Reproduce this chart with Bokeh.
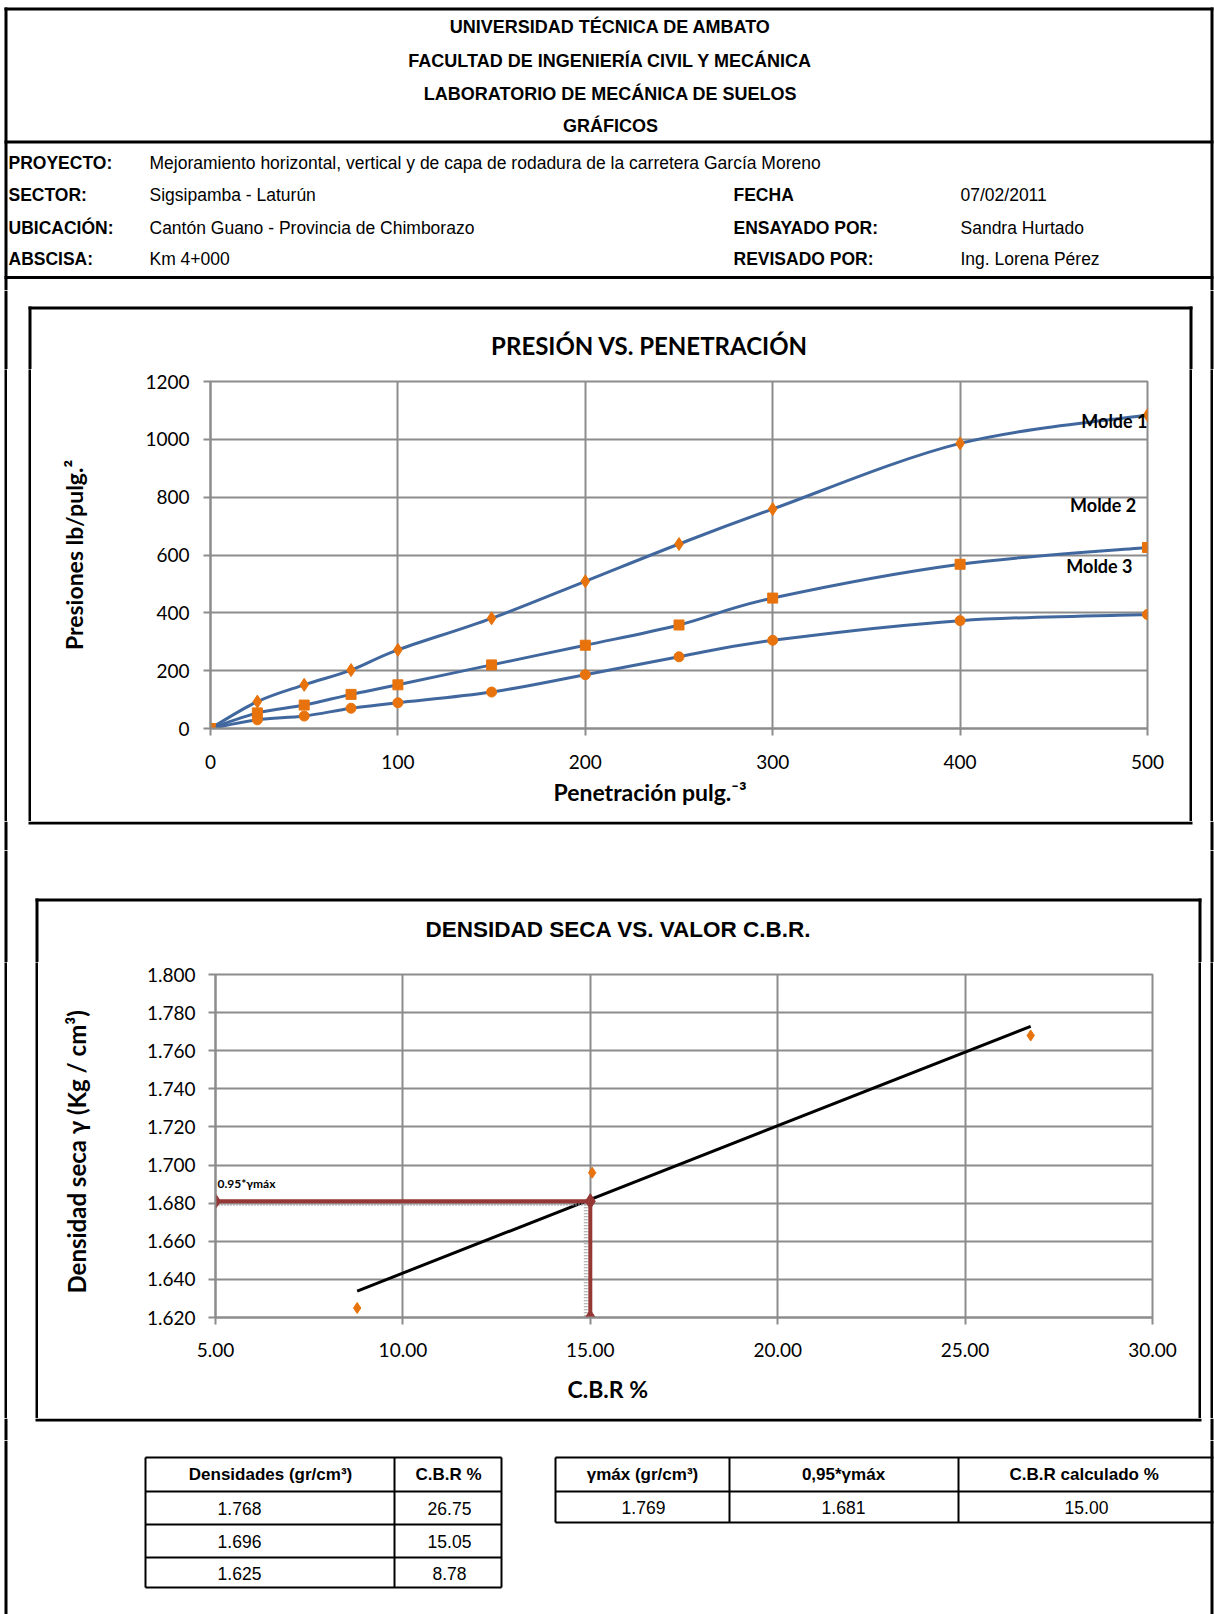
import numpy as np
from bokeh.plotting import figure
from bokeh.layouts import column, row
from bokeh.models import (Range1d, FixedTicker, NumeralTickFormatter, Label,
                          Title)
from bokeh.embed import file_html
from bokeh.resources import INLINE
from bokeh.core.properties import value

# ---------------------------------------------------------------- data
penetracion = [0, 25, 50, 75, 100, 150, 200, 250, 300, 400, 500]
molde_1 = [0, 93, 151, 202, 272, 381, 509, 638, 759, 986, 1084]
molde_2 = [0, 54, 81, 118, 151, 220, 288, 358, 451, 568, 626]
molde_3 = [0, 30, 43, 70, 89, 126, 186, 248, 305, 373, 394]
molde_names = ["Molde 1", "Molde 2", "Molde 3"]

densidades = [1.768, 1.696, 1.625]
cbr_pct = [26.75, 15.05, 8.78]
gamma_max = 1.769
gamma_95 = 1.681
cbr_calculado = 15.00

pen_ticks = [0, 100, 200, 300, 400, 500]
pres_ticks = [0, 200, 400, 600, 800, 1000, 1200]
cbr_ticks = [5, 10, 15, 20, 25, 30]
dens_ticks = [1.62, 1.64, 1.66, 1.68, 1.70, 1.72, 1.74, 1.76, 1.78, 1.80]

titulos = ["UNIVERSIDAD TÉCNICA DE AMBATO",
           "FACULTAD DE INGENIERÍA CIVIL Y MECÁNICA",
           "LABORATORIO DE MECÁNICA DE SUELOS",
           "GRÁFICOS"]
campos_izq = ["PROYECTO:", "SECTOR:", "UBICACIÓN:", "ABSCISA:"]
valores_izq = ["Mejoramiento horizontal, vertical y de capa de rodadura de la carretera García Moreno",
               "Sigsipamba - Laturún",
               "Cantón Guano - Provincia de Chimborazo",
               "Km 4+000"]
campos_der = ["FECHA", "ENSAYADO POR:", "REVISADO POR:"]
valores_der = ["07/02/2011", "Sandra Hurtado", "Ing. Lorena Pérez"]

# ---------------------------------------------------------------- style
W = 1214
SIDES = [(4, 7), (1210, 1213)]          # page side rules
ARIAL = value("Liberation Sans")
CHART_FONT = "Lato"
BLUE = "#41689E"
ORANGE = "#E8730C"
DARKRED = "#953735"
GRID = "#8C8C8C"


def bare(width, height, color="white"):
    """A plain filled block: no axes, no glyphs."""
    p = figure(width=width, height=height, x_axis_location=None,
               y_axis_location=None, output_backend="svg",
               toolbar_location=None, min_border=0)
    p.frame_align = False
    p.grid.visible = False
    p.outline_line_color = None
    p.background_fill_color = color
    p.border_fill_color = color
    return p


def pixel_figure(width, height):
    """No axes; data coordinates are pixels with y growing downwards."""
    p = figure(width=width, height=height, x_range=Range1d(0, width),
               y_range=Range1d(height, 0), x_axis_location=None,
               y_axis_location=None, output_backend="svg",
               toolbar_location=None, min_border=0)
    p.frame_align = False
    p.grid.visible = False
    p.outline_line_color = None
    p.background_fill_color = "white"
    p.border_fill_color = "white"
    return p


def rule_figure(width, height, rects):
    """Pixel figure carrying solid black rectangles (l, r, t, b)."""
    p = pixel_figure(width, height)
    l, r, t, b = zip(*rects)
    p.quad(left=list(l), right=list(r), top=list(t), bottom=list(b),
           fill_color="black", line_color=None)
    return p


def style_chart(p):
    p.frame_align = False
    p.background_fill_color = "white"
    p.border_fill_color = "white"
    p.outline_line_color = GRID
    p.outline_line_width = 2
    for ax in (p.xaxis[0], p.yaxis[0]):
        ax.axis_line_color = GRID
        ax.axis_line_width = 2
        ax.major_tick_line_color = GRID
        ax.major_tick_line_width = 2
        ax.major_tick_out = 7
        ax.major_tick_in = 0
        ax.minor_tick_line_color = None
        ax.major_label_text_font = CHART_FONT
        ax.major_label_text_font_size = "19px"
        ax.major_label_text_color = "black"
        ax.axis_label_text_font = CHART_FONT
        ax.axis_label_text_font_style = "bold"
        ax.axis_label_text_font_size = "23px"
        ax.axis_label_text_color = "black"
    for g in (p.xgrid[0], p.ygrid[0]):
        g.grid_line_color = GRID
        g.grid_line_width = 2


def x_caption(p, text, left_offset, standoff):
    p.add_layout(Title(text=text, align="left", offset=left_offset,
                       standoff=standoff, text_font=CHART_FONT,
                       text_font_style="bold", text_font_size="23px",
                       text_color="black"), "below")


def chart_section(frame, box, sec, title, title_xy, title_font, title_size,
                  x_range, y_range):
    """A chart inside a 3px black box, with the page side rules.

    frame: plot area (left, right, top, bottom) in page pixels
    box:   outer edges of the black box (left, right, top, bottom)
    sec:   vertical extent of the page band (top, bottom)
    Returns the chart and the three stacked bands of the section.
    """
    fl, fr, ft, fb = frame
    bl, br, bt, bb = box
    st, sb = sec
    pad = 12                                  # room for the top tick label
    c_top = ft - pad
    c_bot = bb - 3
    row_h = c_bot - c_top

    # band above the chart canvas: side rules, top of the box and the title
    top_h = c_top - st
    top = rule_figure(W, top_h, [(a, b, 0, top_h) for a, b in SIDES] +
                      [(bl, br, bt - st, bt - st + 3),
                       (bl, bl + 3, bt - st, top_h),
                       (br - 3, br, bt - st, top_h)])
    top.text(x=[title_xy[0]], y=[title_xy[1] - st], text=[title],
             text_font=value(title_font), text_font_style="bold",
             text_font_size=title_size, text_align="center",
             text_baseline="middle", text_color="black")

    chart = figure(width=(br - 3) - (bl + 3), height=row_h,
                   x_range=x_range, y_range=y_range, output_backend="svg",
                   toolbar_location=None,
                   min_border_left=fl - (bl + 3),
                   min_border_right=(br - 3) - fr,
                   min_border_top=pad,
                   min_border_bottom=c_bot - fb)
    style_chart(chart)

    # one flat row of blocks: page rule, gap, box side, chart, box side, ...
    (l0, l1), (r0, r1) = SIDES
    blocks = [bare(l0, row_h), bare(l1 - l0, row_h, "black"),
              bare(bl - l1, row_h), bare(3, row_h, "black"), chart,
              bare(3, row_h, "black"), bare(r0 - br, row_h),
              bare(r1 - r0, row_h, "black"), bare(W - r1, row_h)]
    middle = row(blocks, spacing=0)

    bot_h = sb - c_bot
    bottom = rule_figure(W, bot_h, [(a, b, 0, bot_h) for a, b in SIDES] +
                         [(bl, br, 0, 3)])
    return chart, [top, middle, bottom]


def smooth_segments(xs, ys):
    """Cubic Bezier pieces through the points (Catmull-Rom tangents)."""
    x = np.asarray(xs, float)
    y = np.asarray(ys, float)
    n = len(x)
    xp = np.concatenate([[x[0]], x, [x[-1]]])
    yp = np.concatenate([[y[0]], y, [y[-1]]])
    i = np.arange(n - 1)
    cx0 = x[i] + (xp[i + 2] - xp[i]) / 6
    cy0 = y[i] + (yp[i + 2] - yp[i]) / 6
    cx1 = x[i + 1] - (xp[i + 3] - xp[i + 1]) / 6
    cy1 = y[i + 1] - (yp[i + 3] - yp[i + 1]) / 6
    return dict(x0=x[:-1], y0=y[:-1], x1=x[1:], y1=y[1:],
                cx0=cx0, cy0=cy0, cx1=cx1, cy1=cy1)


# ---------------------------------------------------------------- header
H_H = 290
head = pixel_figure(W, H_H)
head.segment(x0=[4, 4, 4], y0=[8.5, 141.5, 277], x1=[1213, 1213, 1213],
             y1=[8.5, 141.5, 277], line_color="black", line_width=3)
head.segment(x0=[5.5, 1211.5], y0=[7, 7], x1=[5.5, 1211.5], y1=[H_H, H_H],
             line_color="black", line_width=3)
head.text(x=[610] * 4, y=[26, 60, 93, 125], text=titulos, text_font=ARIAL,
          text_font_style="bold", text_font_size="18px", text_align="center",
          text_baseline="middle", text_color="black")
rows_y = [162, 194, 227, 258]
head.text(x=[8] * 4, y=rows_y, text=campos_izq, text_font=ARIAL,
          text_font_style="bold", text_font_size="17.5px", text_align="left",
          text_baseline="middle", text_color="black")
head.text(x=[149] * 4, y=rows_y, text=valores_izq, text_font=ARIAL,
          text_font_size="17.5px", text_align="left", text_baseline="middle",
          text_color="black")
head.text(x=[733] * 3, y=rows_y[1:], text=campos_der, text_font=ARIAL,
          text_font_style="bold", text_font_size="17.5px", text_align="left",
          text_baseline="middle", text_color="black")
head.text(x=[960] * 3, y=rows_y[1:], text=valores_der, text_font=ARIAL,
          text_font_size="17.5px", text_align="left", text_baseline="middle",
          text_color="black")

# ---------------------------------------------------------------- chart 1
p1, sec1 = chart_section(frame=(210, 1147, 381, 728), box=(28, 1192, 306, 824),
                         sec=(290, 850), title="PRESIÓN VS. PENETRACIÓN",
                         title_xy=(649, 345), title_font=CHART_FONT,
                         title_size="24px", x_range=Range1d(0, 500),
                         y_range=Range1d(0, 1200))
p1.xaxis.ticker = FixedTicker(ticks=pen_ticks)
p1.yaxis.ticker = FixedTicker(ticks=pres_ticks)
p1.xaxis.major_label_standoff = 19
p1.yaxis.major_label_standoff = 14
p1.yaxis.axis_label = "Presiones lb/pulg.²"
p1.yaxis.axis_label_standoff = 54
x_caption(p1, "Penetración pulg.⁻³", 343, 9)

for serie, marker, size in ((molde_1, "diamond", 13), (molde_2, "square", 10),
                            (molde_3, "circle", 10)):
    p1.bezier(line_color=BLUE, line_width=3, **smooth_segments(penetracion, serie))
    p1.scatter(penetracion, serie, marker=marker, size=size, fill_color=ORANGE,
               line_color=ORANGE)

for name, lx, ly in zip(molde_names, [500, 494, 492], [1065, 773, 563]):
    p1.add_layout(Label(x=lx, y=ly, text=name, text_font=CHART_FONT,
                        text_font_style="bold", text_font_size="18px",
                        text_align="right", text_baseline="middle",
                        text_color="black"))

# ---------------------------------------------------------------- chart 2
p2, sec2 = chart_section(frame=(215, 1152, 974, 1317), box=(35, 1201, 898, 1421),
                         sec=(850, 1440), title="DENSIDAD SECA VS. VALOR C.B.R.",
                         title_xy=(618, 929), title_font="Liberation Sans",
                         title_size="22.5px", x_range=Range1d(5, 30),
                         y_range=Range1d(1.62, 1.80))
p2.xaxis.ticker = FixedTicker(ticks=cbr_ticks)
p2.yaxis.ticker = FixedTicker(ticks=dens_ticks)
p2.xaxis.formatter = NumeralTickFormatter(format="0.00")
p2.yaxis.formatter = NumeralTickFormatter(format="0.000")
p2.xaxis.major_label_standoff = 18
p2.yaxis.major_label_standoff = 13
p2.yaxis.axis_label = "Densidad seca  γ  (Kg / cm³)"
p2.yaxis.axis_label_text_font_size = "24px"
p2.yaxis.axis_label_standoff = 53
x_caption(p2, "C.B.R  %", 352, 26)

# linear trend through the three specimens
slope, intercept = np.polyfit(cbr_pct, densidades, 1)
tx = np.array([min(cbr_pct), max(cbr_pct)])
p2.line(tx, slope * tx + intercept, line_color="black", line_width=3)
p2.scatter(cbr_pct, densidades, marker="diamond", size=11, fill_color=ORANGE,
           line_color=ORANGE)

# reading of CBR at 95 % of maximum dry density
y_min = dens_ticks[0]
x_min = cbr_ticks[0]
p2.line([x_min, cbr_calculado], [gamma_95 - 0.0015] * 2, line_color="#A0A0A0",
        line_width=4, line_dash="1 2")
p2.line([cbr_calculado - 0.12] * 2, [gamma_95, y_min], line_color="#A0A0A0",
        line_width=4, line_dash="1 2")
rx = [x_min, cbr_calculado, cbr_calculado]
ry = [gamma_95, gamma_95, y_min]
p2.line(rx, ry, line_color=DARKRED, line_width=4)
p2.scatter(rx, ry, marker="diamond", size=15, fill_color=DARKRED,
           line_color=DARKRED)
p2.add_layout(Label(x=x_min, y=gamma_95, x_offset=2, y_offset=10,
                    text="0.95*γmáx", text_font=CHART_FONT,
                    text_font_style="bold", text_font_size="12px",
                    text_align="left", text_baseline="bottom",
                    text_color="black"))

# ---------------------------------------------------------------- tables
T_TOP, T_H = 1440, 174
tab = pixel_figure(W, T_H)


def ty(v):
    return [u - T_TOP for u in v]


tab.segment(x0=[5.5, 1211.5], y0=[0, 0], x1=[5.5, 1211.5], y1=[T_H, T_H],
            line_color="black", line_width=3)

# table of specimens
t1_rows = [1457, 1491, 1524, 1557, 1587]
tab.segment(x0=[145] * 5, y0=ty(t1_rows), x1=[501] * 5, y1=ty(t1_rows),
            line_color="black", line_width=2)
tab.segment(x0=[145, 394, 501], y0=ty([1457] * 3), x1=[145, 394, 501],
            y1=ty([1587] * 3), line_color="black", line_width=2)
tab.text(x=[270, 448], y=ty([1474, 1474]),
         text=["Densidades (gr/cm³)", "C.B.R %"],
         text_font=ARIAL, text_font_style="bold", text_font_size="17px",
         text_align="center", text_baseline="middle", text_color="black")
tab.text(x=[239] * 3, y=ty([1508, 1541, 1573]),
         text=[f"{d:.3f}" for d in densidades], text_font=ARIAL,
         text_font_size="17.5px", text_align="center", text_baseline="middle",
         text_color="black")
tab.text(x=[449] * 3, y=ty([1508, 1541, 1573]),
         text=[f"{c:.2f}" for c in cbr_pct], text_font=ARIAL,
         text_font_size="17.5px", text_align="center", text_baseline="middle",
         text_color="black")

# table of results
t2_rows = [1457, 1491, 1522]
tab.segment(x0=[555] * 3, y0=ty(t2_rows), x1=[1213] * 3, y1=ty(t2_rows),
            line_color="black", line_width=2)
tab.segment(x0=[555, 729, 958], y0=ty([1457] * 3), x1=[555, 729, 958],
            y1=ty([1522] * 3), line_color="black", line_width=2)
tab.text(x=[642, 843, 1086], y=ty([1474] * 3),
         text=["γmáx (gr/cm³)", "0,95*γmáx", "C.B.R calculado  %"],
         text_font=ARIAL, text_font_style="bold", text_font_size="17px",
         text_align="center", text_baseline="middle", text_color="black")
tab.text(x=[643, 843, 1086], y=ty([1507] * 3),
         text=[f"{gamma_max:.3f}", f"{gamma_95:.3f}", f"{cbr_calculado:.2f}"],
         text_font=ARIAL, text_font_size="17.5px", text_align="center",
         text_baseline="middle", text_color="black")

page = column([head, *sec1, *sec2, tab], spacing=0)
open("out.html", "w").write(file_html(page, INLINE))
